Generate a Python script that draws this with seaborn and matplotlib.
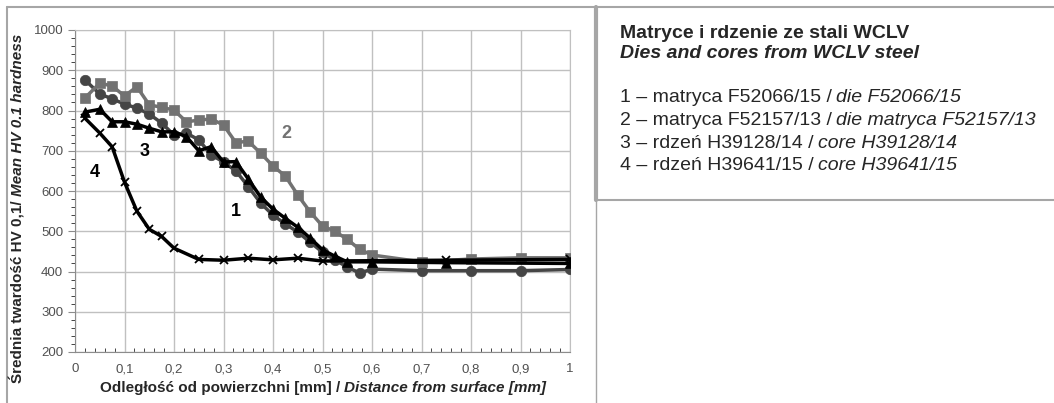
import numpy as np
import pandas as pd
import seaborn as sns
import matplotlib.pyplot as plt
from matplotlib.ticker import MultipleLocator, FuncFormatter
from matplotlib.lines import Line2D

# --- data ---
depth_1 = [0.02, 0.05, 0.075, 0.1, 0.125, 0.15, 0.175, 0.2, 0.225, 0.25, 0.275, 0.3, 0.325, 0.35,
           0.375, 0.4, 0.425, 0.45, 0.475, 0.5, 0.525, 0.55, 0.575, 0.6, 0.7, 0.8, 0.9, 1.0]
hv_1 = [876, 841, 829, 816, 806, 791, 769, 739, 744, 727, 690, 672, 650, 611,
        570, 540, 518, 498, 473, 448, 429, 411, 396, 406, 402, 402, 402, 405]

depth_2 = depth_1
hv_2 = [831, 868, 861, 836, 859, 814, 808, 801, 772, 776, 779, 764, 720, 724,
        694, 662, 637, 590, 548, 513, 500, 480, 455, 441, 424, 431, 434, 434]

depth_3 = [0.02, 0.05, 0.075, 0.1, 0.125, 0.15, 0.175, 0.2, 0.225, 0.25, 0.275, 0.3, 0.325,
           0.35, 0.375, 0.4, 0.425, 0.45, 0.475, 0.5, 0.525, 0.55, 0.6, 0.75, 1.0]
hv_3 = [796, 803, 772, 772, 766, 756, 747, 747, 735, 700, 710, 672, 673,
        630, 585, 555, 532, 510, 483, 454, 438, 424, 424, 422, 420]

depth_4 = [0.02, 0.05, 0.075, 0.1, 0.125, 0.15, 0.175, 0.2, 0.25, 0.3, 0.35, 0.4, 0.45, 0.5, 0.75, 1.0]
hv_4 = [781, 744, 710, 622, 550, 505, 487, 458, 430, 428, 433, 429, 433, 426, 428, 430]

series_names = ['1', '2', '3', '4']
series_colors = ['#454545', '#727272', '#000000', '#000000']
series_markers = ['o', 's', '^', 'x']

title_pl = 'Matryce i rdzenie ze stali WCLV'
title_en = 'Dies and cores from WCLV steel'
legend_pl = ['1 – matryca F52066/15 /', '2 – matryca F52157/13 /', '3 – rdzeń H39128/14 /', '4 – rdzeń H39641/15 /']
legend_en = ['die F52066/15', 'die matryca F52157/13', 'core H39128/14', 'core H39641/15']

sns.set_style('white')
plt.rcParams['font.family'] = ['Liberation Sans', 'DejaVu Sans']

fig = plt.figure(figsize=(10.54, 4.03), dpi=100)
ax = fig.add_axes([75 / 1054, 1 - 352 / 403, 495 / 1054, 322 / 403])

data = [(depth_1, hv_1), (depth_2, hv_2), (depth_3, hv_3), (depth_4, hv_4)]
for (dx, dy), name, col, mk in zip(data, series_names, series_colors, series_markers):
    df = pd.DataFrame({'depth': dx, 'hv': dy})
    ms = 7.5 if mk != 'x' else 6
    sns.lineplot(data=df, x='depth', y='hv', ax=ax, color=col, lw=2.5, marker=mk,
                 markersize=ms, markeredgecolor=col, markeredgewidth=1.3 if mk == 'x' else 0.5,
                 zorder=3)

ax.set_xlim(0, 1)
ax.set_ylim(200, 1000)
ax.xaxis.set_major_locator(MultipleLocator(0.1))
ax.xaxis.set_minor_locator(MultipleLocator(0.02))
ax.yaxis.set_major_locator(MultipleLocator(100))
ax.yaxis.set_minor_locator(MultipleLocator(20))
ax.xaxis.set_major_formatter(FuncFormatter(lambda v, p: ('%g' % round(v, 2)).replace('.', ',')))
ax.grid(True, which='major', color='#c0c0c0', lw=1)
for s in ax.spines.values():
    s.set_color('#c0c0c0')
ax.spines['left'].set_color('#8c8c8c')
ax.spines['bottom'].set_color('#8c8c8c')
ax.tick_params(axis='both', labelsize=9.5, labelcolor='#505050', colors='#8c8c8c')
ax.tick_params(axis='y', which='major', direction='out', length=5, left=True)
ax.tick_params(axis='y', which='minor', direction='out', length=3, left=True)
ax.tick_params(axis='x', which='major', direction='in', length=0, bottom=True, pad=8)
ax.tick_params(axis='x', which='minor', direction='in', length=3, bottom=True)
ax.set_xlabel('')
ax.set_ylabel('')

# series numbers
num_pos = [(0.325, 548), (0.428, 744), (0.141, 697), (0.04, 647)]
num_col = ['#000000', '#727272', '#000000', '#000000']
for name, (px, py), c in zip(series_names, num_pos, num_col):
    ax.text(px, py, name, fontsize=13, fontweight='bold', color=c, ha='center', va='center')

fig.canvas.draw()
r = fig.canvas.get_renderer()

# x label: bold + bold italic
t1 = fig.text(100 / 1054, 1 - 388 / 403, 'Odległość od powierzchni [mm] /', fontsize=11,
              fontweight='bold', ha='left', va='center')
bb = t1.get_window_extent(r)
fig.text(bb.x1 / 1054 + 4 / 1054, 1 - 388 / 403, 'Distance from surface [mm]', fontsize=11,
         fontweight='bold', style='italic', ha='left', va='center')

# y label: bold + bold italic, rotated
t2 = fig.text(18 / 1054, 1 - 383 / 403, 'Średnia twardość HV 0,1/', fontsize=11,
              fontweight='bold', rotation=90, ha='center', va='bottom')
bb = t2.get_window_extent(r)
fig.text(18 / 1054, bb.y1 / 403 + 4 / 403, 'Mean HV 0.1 hardness', fontsize=11,
         fontweight='bold', style='italic', rotation=90, ha='center', va='bottom')

# right text panel
fig.text(620 / 1054, 1 - 33 / 403, title_pl, fontsize=14, fontweight='bold', va='center')
fig.text(620 / 1054, 1 - 54 / 403, title_en, fontsize=14, fontweight='bold', style='italic', va='center')
for i, (pl, en) in enumerate(zip(legend_pl, legend_en)):
    yy = 1 - (98 + 22.5 * i) / 403
    tp = fig.text(620 / 1054, yy, pl, fontsize=14, va='center')
    b = tp.get_window_extent(r)
    fig.text(b.x1 / 1054 + 4 / 1054, yy, en, fontsize=14, style='italic', va='center')

# frame lines
fr = '#a6a6a6'
fig.add_artist(Line2D([7 / 1054, 1], [1 - 7 / 403, 1 - 7 / 403], color=fr, lw=1.5))
fig.add_artist(Line2D([7 / 1054, 7 / 1054], [0, 1 - 7 / 403], color=fr, lw=1.5))
fig.add_artist(Line2D([596 / 1054, 596 / 1054], [1 - 200 / 403, 1 - 7 / 403], color=fr, lw=3))
fig.add_artist(Line2D([596 / 1054, 596 / 1054], [0, 1 - 200 / 403], color=fr, lw=1))
fig.add_artist(Line2D([596 / 1054, 1], [1 - 200 / 403, 1 - 200 / 403], color=fr, lw=1.5))

fig.savefig('out.png', dpi=100)
